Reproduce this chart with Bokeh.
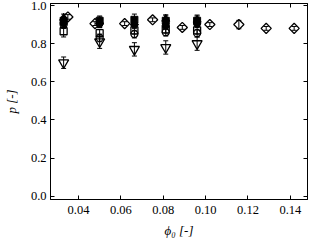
from bokeh.plotting import figure
from bokeh.models import (ColumnDataSource, Whisker, TeeHead, LinearAxis, Range1d,
                          FixedTicker, NumeralTickFormatter)
from bokeh.embed import file_html
from bokeh.resources import INLINE

# ---- data ----
diamond_x = [0.035, 0.0478, 0.0618, 0.075, 0.089, 0.102, 0.1157, 0.1286, 0.1418]
diamond_y = [0.94, 0.905, 0.905, 0.925, 0.885, 0.90, 0.90, 0.88, 0.88]
diamond_err = [0.012, 0.01, 0.01, 0.01, 0.01, 0.01, 0.022, 0.01, 0.01]

stack_x = [0.033, 0.050, 0.0664, 0.0812, 0.096]
fsq_y = [0.92, 0.92, 0.925, 0.92, 0.92]
fsq_err = [0.02, 0.02, 0.03, 0.03, 0.03]
fci_y = [0.91, 0.905, 0.90, 0.895, 0.905]
fci_err = [0.02, 0.02, 0.02, 0.02, 0.02]
ftr_y = [0.935, 0.915, 0.91, 0.93, 0.925]
ftr_err = [0.02, 0.03, 0.02, 0.02, 0.02]
oci_y = [0.90, 0.83, 0.85, 0.86, 0.855]
oci_err = [0.02, 0.02, 0.02, 0.02, 0.02]
osq_y = [0.865, 0.855, 0.87, 0.875, 0.87]
osq_err = [0.03, 0.02, 0.02, 0.02, 0.02]
itr_y = [0.70, 0.81, 0.77, 0.78, 0.80]
itr_err = [0.03, 0.035, 0.035, 0.035, 0.035]

x_ticks = [0.04, 0.06, 0.08, 0.10, 0.12, 0.14]
y_ticks = [0.0, 0.2, 0.4, 0.6, 0.8, 1.0]
x_label = "ϕ₀ [-]"
y_label = "p [-]"

FONT = "Liberation Serif"

p = figure(width=309, height=243, output_backend="svg", toolbar_location=None,
           x_range=Range1d(0.0268, 0.1481), y_range=Range1d(-0.0173, 1.0105),
           min_border_left=47, min_border_right=2, min_border_top=3, min_border_bottom=44,
           x_axis_location=None, y_axis_location=None)
p.grid.visible = False
p.outline_line_color = "black"
p.outline_line_width = 1
p.background_fill_color = "white"
p.border_fill_color = "white"


def styled_axis(axis, ticks, fmt=None, label=None, label_standoff=0, tick_standoff=4):
    axis.ticker = FixedTicker(ticks=ticks)
    axis.major_tick_in = 4
    axis.major_tick_out = 0
    axis.minor_tick_in = 0
    axis.minor_tick_out = 0
    axis.axis_line_color = "black"
    axis.major_tick_line_color = "black"
    axis.major_tick_line_width = 1
    axis.major_label_text_font = FONT
    axis.major_label_text_font_size = "12.5px"
    axis.major_label_text_color = "black"
    if fmt is None:
        axis.major_label_overrides = {t: "" for t in ticks}
        axis.major_label_standoff = 0
    else:
        axis.formatter = NumeralTickFormatter(format=fmt)
        axis.major_label_standoff = tick_standoff
    if label is not None:
        axis.axis_label = label
        axis.axis_label_text_font = FONT
        axis.axis_label_text_font_style = "italic"
        axis.axis_label_text_font_size = "13px"
        axis.axis_label_text_color = "black"
        axis.axis_label_standoff = label_standoff
    return axis


p.add_layout(styled_axis(LinearAxis(), x_ticks, "0.00", x_label, 6, 6), "below")
p.add_layout(styled_axis(LinearAxis(), y_ticks, "0.0", y_label, 9, 4), "left")
p.add_layout(styled_axis(LinearAxis(), x_ticks), "above")
p.add_layout(styled_axis(LinearAxis(), y_ticks), "right")


def errbars(xs, ys, es, head=5):
    src = ColumnDataSource(dict(x=xs, lo=[y - e for y, e in zip(ys, es)],
                                hi=[y + e for y, e in zip(ys, es)]))
    w = Whisker(source=src, base="x", lower="lo", upper="hi", dimension="height",
                line_color="black", line_width=1,
                upper_head=TeeHead(size=head, line_color="black", line_width=1),
                lower_head=TeeHead(size=head, line_color="black", line_width=1))
    p.add_layout(w)


for xs, ys, es in [(diamond_x, diamond_y, diamond_err), (stack_x, itr_y, itr_err),
                   (stack_x, oci_y, oci_err), (stack_x, osq_y, osq_err),
                   (stack_x, fci_y, fci_err), (stack_x, fsq_y, fsq_err),
                   (stack_x, ftr_y, ftr_err)]:
    errbars(xs, ys, es)

lw = 1.3
p.scatter(diamond_x, diamond_y, marker="square", angle=0.7854, size=7.2, fill_alpha=0,
          line_color="black", line_width=lw)
p.scatter(stack_x, itr_y, marker="inverted_triangle", size=10, fill_alpha=0,
          line_color="black", line_width=lw)
p.scatter(stack_x, oci_y, marker="circle", size=7, fill_alpha=0,
          line_color="black", line_width=lw)
p.scatter(stack_x, osq_y, marker="square", size=7, fill_alpha=0,
          line_color="black", line_width=lw)
p.scatter(stack_x, fci_y, marker="circle", size=7, fill_color="black",
          line_color="black", line_width=1)
p.scatter(stack_x, fsq_y, marker="square", size=7, fill_color="black",
          line_color="black", line_width=1)
p.scatter(stack_x, ftr_y, marker="triangle", size=8, fill_color="black",
          line_color="black", line_width=1)

open("out.html", "w").write(file_html(p, INLINE))
